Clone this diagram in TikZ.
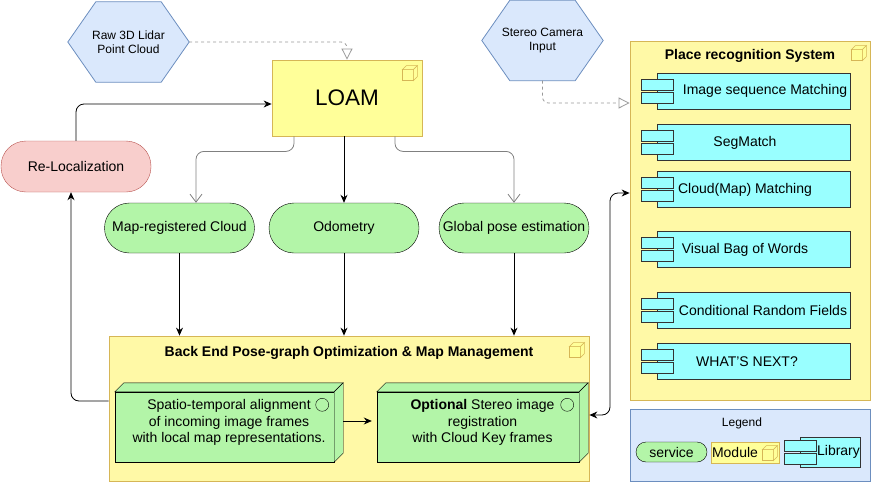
\documentclass[tikz,border=0pt]{standalone}
\usepackage{fontspec}
\setmainfont{Liberation Sans}
\usetikzlibrary{positioning, arrows.meta, backgrounds}

\definecolor{hexblue}{HTML}{DAE8FC}
\definecolor{hexline}{HTML}{6C8EBF}
\definecolor{modyellow}{HTML}{FFFF99}
\definecolor{boxyellow}{HTML}{FFF9A6}
\definecolor{modline}{HTML}{D6B656}
\definecolor{servgreen}{HTML}{B3F5A8}
\definecolor{libcyan}{HTML}{99FFFF}
\definecolor{relocred}{HTML}{F8CECC}
\definecolor{relocline}{HTML}{B85450}

\begin{document}
\begin{tikzpicture}[
		x=1pt, y=-1pt,
		every node/.style={font=\fontsize{14}{16.5}\selectfont, inner sep=2pt},
		hexnode/.style={minimum width=121, minimum height=80, inner sep=0pt, align=center, font=\fontsize{12}{14}\selectfont},
		hexshape/.style={fill=hexblue, draw=hexline, line width=0.8pt},
		module/.style={draw=modline, fill=modyellow, line width=0.8pt},
		container/.style={draw=modline, fill=boxyellow, line width=0.8pt},
		service/.style={draw, fill=servgreen, rounded corners=25pt, minimum width=150, minimum height=50},
		nodebox/.style={draw, fill=servgreen},
		boxface/.style={draw, fill=servgreen},
		libbox/.style={draw=black!80, fill=libcyan, minimum width=193, minimum height=36},
		libtab/.style={draw=black!80, fill=libcyan},
		title/.style={font=\bfseries\fontsize{14}{16}\selectfont},
		flow/.style={draw, line width=0.8pt, rounded corners=8pt, -{Stealth[length=8pt,width=7pt]}},
		grayflow/.style={draw=gray, line width=0.8pt, rounded corners=8pt, -{Straight Barb[length=8pt,width=12pt]}},
		dashflow/.style={draw=black!40, line width=0.8pt, dash pattern=on 3pt off 3pt, rounded corners=6pt, -{Triangle[open,length=11pt,width=11pt]}},
		dblflow/.style={flow, {Stealth[length=8pt,width=7pt]}-{Stealth[length=8pt,width=7pt]}},
		modcube/.pic={
			\draw[draw=modline, line width=0.6pt, fill=modyellow] (-7,-3) rectangle (4,8);
			\draw[draw=modline, line width=0.6pt, fill=modyellow] (-7,-3) -- (-3,-7) -- (8,-7) -- (4,-3) -- cycle;
			\draw[draw=modline, line width=0.6pt, fill=modyellow] (4,-3) -- (8,-7) -- (8,4) -- (4,8) -- cycle;
		}
	]
  \useasboundingbox (0,0) rectangle (871,482);

  % inputs
  \node (lidar) [hexnode] at (128.5,42) {Raw 3D Lidar\\Point Cloud};
  \node (stereo) [hexnode] at (542.5,40.5) {Stereo Camera\\Input};
  \begin{scope}[on background layer]
    \foreach \h in {lidar, stereo}
      \draw[hexshape] (\h.west) -- ([xshift=28pt]\h.north west) -- ([xshift=-28pt]\h.north east)
        -- (\h.east) -- ([xshift=-28pt]\h.south east) -- ([xshift=28pt]\h.south west) -- cycle;
  \end{scope}

  % front end
  \node (loam) [module, minimum width=150, minimum height=76, font=\fontsize{22.5}{26}\selectfont] at (347,98) {LOAM};
  \pic at ([shift={(-13,13)}]loam.north east) {modcube};
  \node (reloc) [draw=relocline, fill=relocred, rounded corners=25pt, minimum width=150, minimum height=51] at (76,166.5) {Re-Localization};

  \node (mapcloud) [service] at (179.5,228) {Map-registered Cloud};
  \node (odometry) [service] at (344,228) {Odometry};
  \node (gpose) [service] at (514,228) {Global pose estimation};

  % back end
  \node (backend) [container, minimum width=480, minimum height=145] at (349,408.5) {};
  \node (betitle) [title] at ([yshift=-17pt]backend.north) {Back End Pose-graph Optimization \& Map Management};
  \pic at ([shift={(-13,14)}]backend.north east) {modcube};

  \node (spatio) [nodebox, minimum width=219, minimum height=70,
    label={[xshift=4.5pt, yshift=4.5pt, align=center]center:Spatio-temporal alignment\\of incoming image frames\\with local map representations.}] at (224.5,427) {};
  \node (stereoreg) [nodebox, minimum width=202, minimum height=70,
    label={[xshift=4.5pt, yshift=4.5pt, align=center]center:\textbf{Optional} Stereo image\\registration\\with Cloud Key frames}] at (478,427) {};
  \foreach \b in {spatio, stereoreg} {
    \draw[boxface] (\b.north west) -- ++(9,-9) -- ([shift={(9,-9)}]\b.north east) -- (\b.north east) -- cycle;
    \draw[boxface] (\b.north east) -- ++(9,-9) -- ([shift={(9,-9)}]\b.south east) -- (\b.south east) -- cycle;
    \draw[fill=servgreen] ([shift={(-12,13)}]\b.north east) circle (6.5);
  }

  % place recognition
  \node (place) [container, minimum width=240, minimum height=359] at (750,220.5) {};
  \node (placetitle) [title] at ([yshift=-15pt]place.north) {Place recognition System};
  \pic at ([shift={(-12,12)}]place.north east) {modcube};

  \node (imgseq) [libbox, label={[xshift=11.5pt]center:Image sequence Matching}] at (753.5,91) {};
  \node (segmatch) [libbox, label={[xshift=-8.5pt]center:SegMatch}] at (753.5,142.5) {};
  \node (cloudmatch) [libbox, label={[xshift=-8.5pt]center:Cloud(Map) Matching}] at (753.5,189.5) {};
  \node (vbow) [libbox, label={[xshift=-8.5pt]center:Visual Bag of Words}] at (753.5,249.5) {};
  \node (crf) [libbox, label={[xshift=9.5pt]center:Conditional Random Fields}] at (753.5,310.5) {};
  \node (whatsnext) [libbox, label={[xshift=-6.5pt]center:WHAT'S NEXT?}] at (753.5,361.5) {};

  % legend
  \node (legend) [draw=hexline, fill=hexblue, minimum width=240, minimum height=72] at (750,445) {};
  \node (legendtitle) [font=\fontsize{12}{14}\selectfont] at (742,423) {Legend};
  \node (legservice) [draw, fill=servgreen, rounded corners=10pt, minimum width=71, minimum height=20] at (671.5,452) {service};
  \node (legmodule) [module, minimum width=68, minimum height=21, label={[xshift=-10pt]center:Module}] at (745,452.5) {};
  \pic at ([shift={(-10,11)}]legmodule.north east) {modcube};
  \node (leglib) [libbox, minimum width=60, minimum height=30, label={[xshift=8.5pt]center:Library}] at (830,452) {};

  % component tabs
  \foreach \l in {imgseq, segmatch, cloudmatch, vbow, crf, whatsnext, leglib} {
    \draw[libtab] ([shift={(-16,-12)}]\l.west) rectangle ([shift={(16,-1)}]\l.west);
    \draw[libtab] ([shift={(-16,1)}]\l.west) rectangle ([shift={(16,12)}]\l.west);
  }

  % connectors
  \draw[dashflow] (lidar.east) -| (loam.north);
  \draw[dashflow] (stereo.south) |- ([yshift=117.5pt]place.west);
  \draw[grayflow] ([xshift=-53pt]loam.south) -- ++(0,15) -| ([xshift=16.5pt]mapcloud.north);
  \draw[flow] (loam.south -| odometry.north) -- (odometry.north);
  \draw[grayflow] ([xshift=48pt]loam.south) -- ++(0,15) -| (gpose.north);
  \draw[flow] (reloc.north) |- ([yshift=-6pt]loam.west);
  \foreach \s in {mapcloud, odometry, gpose}
    \draw[flow] (\s.south) -- (\s.south |- backend.north);
  \draw[flow] ([yshift=7.5pt]backend.west) -| ([xshift=-5pt]reloc.south);
  \draw[flow] ([shift={(9,-6)}]spatio.east) -- ([shift={(-5,-6)}]stereoreg.west);
  \coordinate (placebus) at (610,193);
  \draw[dblflow] ([yshift=-6.5pt]backend.east) -| (placebus) -- (place.west |- placebus);
\end{tikzpicture}
\end{document}
